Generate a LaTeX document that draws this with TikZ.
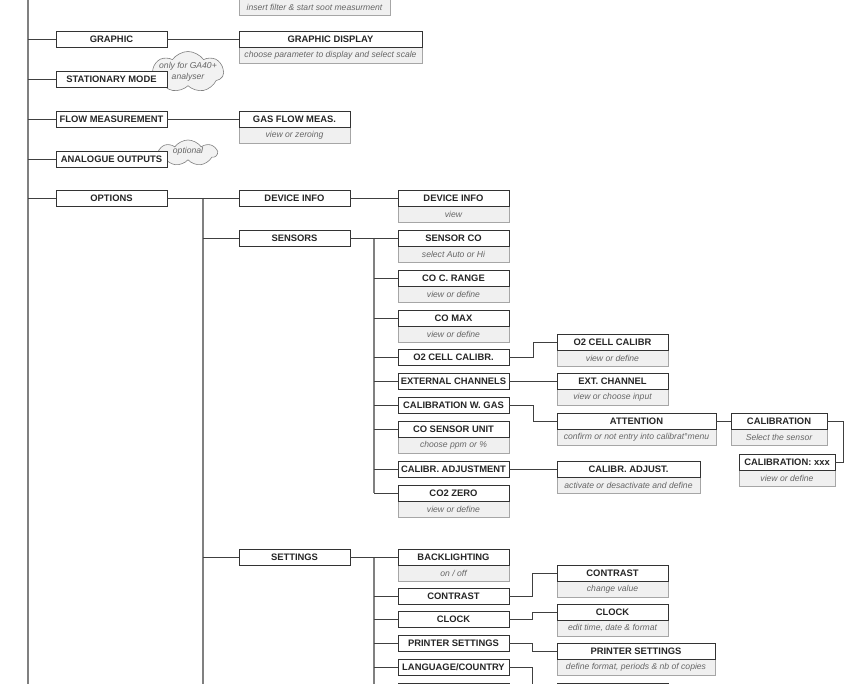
\documentclass[tikz,border=0pt]{standalone}
\usepackage{fontspec}
\setmainfont{Liberation Sans}
\usetikzlibrary{positioning, shapes.symbols, backgrounds}

\begin{document}
\begin{tikzpicture}[
    x=1pt, y=-1pt,
    menu/.style={rectangle, draw=black!80, fill=white, line width=0.9pt, outer sep=0pt, inner sep=0pt, minimum width=111pt, minimum height=16pt, text=black!85, font=\fontsize{9.4}{10}\selectfont\bfseries},
    hint/.style={rectangle, draw=black!35, fill=black!6, line width=0.8pt, outer sep=0pt, inner sep=0pt, minimum width=111pt, minimum height=16pt, text=black!60, font=\fontsize{8.6}{9}\selectfont\itshape},
    bubble/.style={cloud, cloud puffs=7, cloud puff arc=110, cloud ignores aspect, draw=black!50, fill=black!5, line width=0.6pt, inner sep=0pt},
    bubbletext/.style={inner sep=0pt, align=center, text=black!60, font=\fontsize{8.6}{11}\selectfont\itshape},
    trunk/.style={draw=black!50, line width=1.3pt},
    link/.style={draw=black!75, line width=0.8pt}
]

\useasboundingbox (0,0) rectangle (845,684);
\clip (0,0) rectangle (845,684);

% Main menu
\node[menu, anchor=north west] (graphic) at (56,31) {GRAPHIC};
\node[menu, below=24pt of graphic] (stationary) {STATIONARY MODE};
\node[menu, below=24pt of stationary] (flow) {FLOW MEASUREMENT};
\node[menu, below=24pt of flow] (analogue) {ANALOGUE OUTPUTS};
\node[menu, below=23pt of analogue] (options) {OPTIONS};

% Second level
\node[menu, right=72pt of graphic, minimum width=183pt] (graphicdisp) {GRAPHIC DISPLAY};
\node[menu, right=72pt of flow] (gasflow) {GAS FLOW MEAS.};
\node[menu, right=72pt of options] (devinfo) {DEVICE INFO};
\node[menu, below=24pt of devinfo] (sensors) {SENSORS};
\node[menu, below=303pt of sensors] (settings) {SETTINGS};

% Sensors menu
\node[menu, right=48pt of devinfo] (devinfoview) {DEVICE INFO};
\node[menu, right=48pt of sensors] (sensorco) {SENSOR CO};
\node[menu, below=24pt of sensorco] (corange) {CO C. RANGE};
\node[menu, below=24pt of corange] (comax) {CO MAX};
\node[menu, below=23pt of comax] (o2cell) {O2 CELL CALIBR.};
\node[menu, below=8pt of o2cell] (extchan) {EXTERNAL CHANNELS};
\node[menu, below=8pt of extchan] (calgas) {CALIBRATION W. GAS};
\node[menu, below=8pt of calgas] (counit) {CO SENSOR UNIT};
\node[menu, below=24pt of counit] (caladj) {CALIBR. ADJUSTMENT};
\node[menu, below=8pt of caladj] (co2zero) {CO2 ZERO};

% Sensor sub-menus
\node[menu, right=48pt of o2cell, yshift=15pt] (o2calib) {O2 CELL CALIBR};
\node[menu, right=48pt of extchan] (extchannel) {EXT. CHANNEL};
\node[menu, right=48pt of calgas, yshift=-16pt, minimum width=159pt] (attention) {ATTENTION};
\node[menu, right=15pt of attention, minimum width=96pt] (calib) {CALIBRATION};
\node[menu, below=25pt of calib, xshift=8pt, minimum width=96pt] (calibxxx) {CALIBRATION: xxx};
\node[menu, right=48pt of caladj, minimum width=143pt] (caladjust) {CALIBR. ADJUST.};

% Settings menu
\node[menu, right=48pt of settings] (backlight) {BACKLIGHTING};
\node[menu, below=23pt of backlight] (contrast) {CONTRAST};
\node[menu, below=7pt of contrast] (clock) {CLOCK};
\node[menu, below=8pt of clock] (printer) {PRINTER SETTINGS};
\node[menu, below=8pt of printer] (language) {LANGUAGE/COUNTRY};
\node[menu, below=8pt of language] (nextitem) {};

% Settings sub-menus
\node[menu, right=48pt of contrast, yshift=23pt] (contrastset) {CONTRAST};
\node[menu, right=48pt of clock, yshift=7pt] (clockset) {CLOCK};
\node[menu, right=48pt of printer, yshift=-8pt, minimum width=158pt] (printerset) {PRINTER SETTINGS};
\node[menu, right=48pt of language, yshift=-24pt] (languageset) {};

% Trunks
\coordinate (top) at (28,-5);
\coordinate (bottom) at (28,700);
\coordinate[right=36pt of options.east] (optjoint);
\coordinate[right=24pt of sensors.east] (senjoint);
\coordinate[right=24pt of settings.east] (setjoint);

\draw[trunk] (top) -- (bottom);
\draw[trunk] (optjoint) -- (optjoint |- bottom);
\draw[trunk] (senjoint) -- (senjoint |- co2zero.west);
\draw[trunk] (setjoint) -- (setjoint |- bottom);

% Links
\draw[link] (graphic.west) -- (graphic.west -| top);
\draw[link] (stationary.west) -- (stationary.west -| top);
\draw[link] (flow.west) -- (flow.west -| top);
\draw[link] (analogue.west) -- (analogue.west -| top);
\draw[link] (options.west) -- (options.west -| top);

\draw[link] (graphic) -- (graphicdisp);
\draw[link] (flow) -- (gasflow);
\draw[link] (options) -- (devinfo);
\draw[link] (sensors.west) -- (sensors.west -| optjoint);
\draw[link] (settings.west) -- (settings.west -| optjoint);

\draw[link] (devinfo) -- (devinfoview);
\draw[link] (sensors) -- (sensorco);
\draw[link] (corange.west) -- (corange.west -| senjoint);
\draw[link] (comax.west) -- (comax.west -| senjoint);
\draw[link] (o2cell.west) -- (o2cell.west -| senjoint);
\draw[link] (extchan.west) -- (extchan.west -| senjoint);
\draw[link] (calgas.west) -- (calgas.west -| senjoint);
\draw[link] (counit.west) -- (counit.west -| senjoint);
\draw[link] (caladj.west) -- (caladj.west -| senjoint);
\draw[link] (co2zero.west) -- (co2zero.west -| senjoint);

\draw[link] (o2cell.east) -- ++(24,0) |- (o2calib.west);
\draw[link] (extchan) -- (extchannel);
\draw[link] (calgas.east) -- ++(24,0) |- (attention.west);
\draw[link] (attention) -- (calib);
\draw[link] (calib.east) -- ++(16,0) |- (calibxxx.east);
\draw[link] (caladj) -- (caladjust);

\draw[link] (settings) -- (backlight);
\draw[link] (contrast.west) -- (contrast.west -| setjoint);
\draw[link] (clock.west) -- (clock.west -| setjoint);
\draw[link] (printer.west) -- (printer.west -| setjoint);
\draw[link] (language.west) -- (language.west -| setjoint);
\draw[link] (nextitem.west) -- (nextitem.west -| setjoint);

\draw[link] (contrast.east) -- ++(23,0) |- (contrastset.west);
\draw[link] (clock.east) -- ++(23,0) |- (clockset.west);
\draw[link] (printer.east) -- ++(23,0) |- (printerset.west);
\draw[link] (language.east) -- ++(23,0) |- (languageset.west);

% Hints and notes
\begin{scope}[on background layer]
    \node[hint, minimum width=151pt, above=16pt of graphicdisp.north west, anchor=south west] (soothint) {insert filter \& start soot measurment};
    \node[hint, minimum width=183pt, below=0pt of graphicdisp] (graphicdisphint) {choose parameter to display and select scale};
    \node[hint, below=0pt of gasflow] (gasflowhint) {view or zeroing};
    \node[hint, below=0pt of devinfoview] (devinfohint) {view};
    \node[hint, below=0pt of sensorco] (sensorcohint) {select Auto or Hi};
    \node[hint, below=0pt of corange] (corangehint) {view or define};
    \node[hint, below=0pt of comax] (comaxhint) {view or define};
    \node[hint, below=0pt of o2calib] (o2calibhint) {view or define};
    \node[hint, below=0pt of extchannel] (extchannelhint) {view or choose input};
    \node[hint, minimum width=159pt, below=0pt of attention] (attentionhint) {confirm or not entry into calibrat°menu};
    \node[hint, minimum width=96pt, below=0pt of calib] (calibhint) {Select the sensor};
    \node[hint, minimum width=96pt, below=0pt of calibxxx] (calibxxxhint) {view or define};
    \node[hint, below=0pt of counit] (counithint) {choose ppm or \%};
    \node[hint, minimum width=143pt, below=0pt of caladjust] (caladjusthint) {activate or desactivate and define};
    \node[hint, below=0pt of co2zero] (co2zerohint) {view or define};
    \node[hint, below=0pt of backlight] (backlighthint) {on / off};
    \node[hint, below=0pt of contrastset] (contrasthint) {change value};
    \node[hint, below=0pt of clockset] (clockhint) {edit time, date \& format};
    \node[hint, minimum width=158pt, below=0pt of printerset] (printerhint) {define format, periods \& nb of copies};

    \node[bubble, minimum width=71pt, minimum height=41pt, label={[bubbletext, name=ga40text]center:only for GA40+\\analyser}] (ga40note) at (188,72) {};
    \node[bubble, minimum width=58pt, minimum height=26pt, label={[bubbletext, name=optionaltext, yshift=2pt]center:optional}] (optionalnote) at (188,153) {};
\end{scope}

\end{tikzpicture}
\end{document}
